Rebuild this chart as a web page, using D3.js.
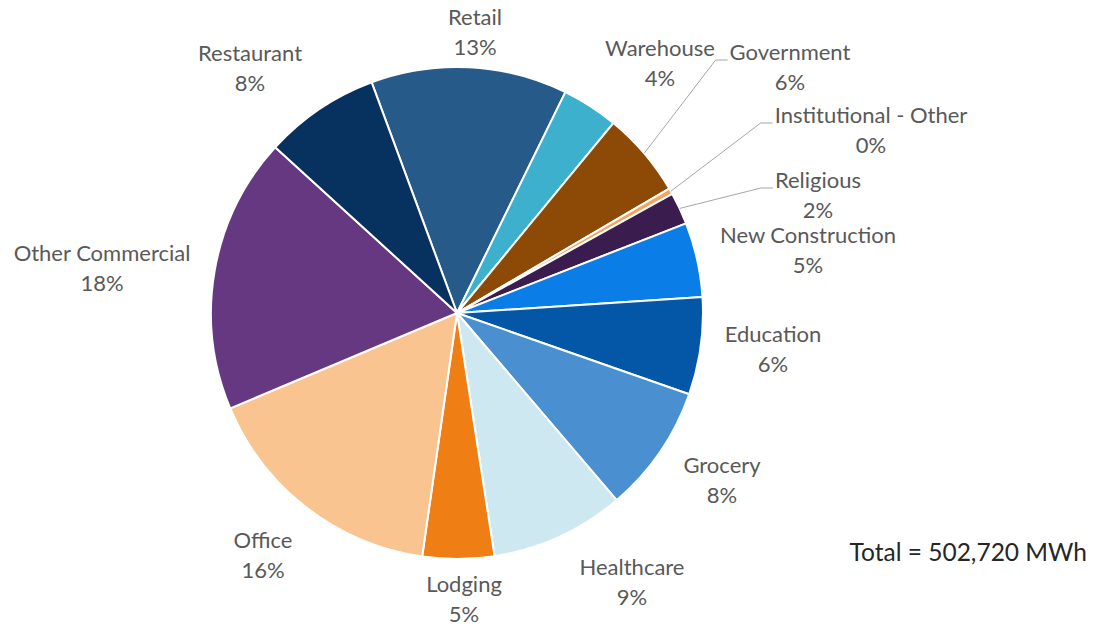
<!DOCTYPE html>
<html>
<head>
<meta charset="utf-8">
<script src="https://cdn.jsdelivr.net/npm/d3@7"></script>
<style>
  html, body { margin: 0; padding: 0; background: #fff; }
  svg text { font-family: Lato, "Open Sans", sans-serif; fill: #595959; }
</style>
</head>
<body>
<svg id="chart" width="1105" height="627"></svg>
<script>
// Commercial sector energy use by building type (share of total, %)
const categories = [
  "Retail", "Warehouse", "Government", "Institutional - Other", "Religious",
  "New Construction", "Education", "Grocery", "Healthcare", "Lodging",
  "Office", "Other Commercial", "Restaurant"
];
const shares = [12.9, 3.7, 5.6, 0.4, 2.1, 4.9, 6.4, 8.4, 8.8, 4.7, 16.4, 18.1, 7.6];
const totalLabel = "Total = 502,720 MWh";

// Slice colours, in category order
const colors = [
  "#255a89", "#3cb0cd", "#8c4a06", "#f3a45e", "#3b1c4f",
  "#0a7ee6", "#0457a6", "#4a8fd0", "#cde8f0", "#ef7f15",
  "#f9c48f", "#673882", "#07325f"
];

// Label block centres, relative to the pie centre; leader = draw a connector line
const labelLayout = {
  "Retail":               { x: 18,   y: -281 },
  "Warehouse":            { x: 203,  y: -250 },
  "Government":           { x: 333,  y: -246, leader: true },
  "Institutional - Other":{ x: 414,  y: -183, leader: true },
  "Religious":            { x: 361,  y: -118, leader: true },
  "New Construction":     { x: 351,  y: -63 },
  "Education":            { x: 316,  y: 36 },
  "Grocery":              { x: 265,  y: 167 },
  "Healthcare":           { x: 175,  y: 269 },
  "Lodging":              { x: 7,    y: 286 },
  "Office":               { x: -194, y: 242 },
  "Other Commercial":     { x: -355, y: -45 },
  "Restaurant":           { x: -207, y: -245 }
};

const svg = d3.select("#chart");
const cx = 457, cy = 313, radius = 246;
const fontSize = 22, lineGap = 30;

const data = categories.map((c, i) => ({ name: c, value: shares[i], color: colors[i] }));
const total = d3.sum(shares);
const pct = d3.format(".0%");

const startAngle = -20.3 * Math.PI / 180;
const pie = d3.pie()
  .value(d => d.value)
  .sort(null)
  .startAngle(startAngle)
  .endAngle(startAngle + 2 * Math.PI);

const arc = d3.arc().innerRadius(0).outerRadius(radius);
const arcs = pie(data);

const g = svg.append("g").attr("transform", `translate(${cx},${cy})`);

g.selectAll("path.slice")
  .data(arcs)
  .join("path")
  .attr("class", "slice")
  .attr("d", arc)
  .attr("fill", d => d.data.color)
  .attr("stroke", "#ffffff")
  .attr("stroke-width", 2)
  .attr("stroke-linejoin", "round");

// Data labels: category name over rounded percentage
const labels = g.selectAll("g.label")
  .data(arcs)
  .join("g")
  .attr("class", "label")
  .attr("transform", d => {
    const p = labelLayout[d.data.name];
    return `translate(${p.x},${p.y})`;
  });

labels.append("text")
  .attr("text-anchor", "middle")
  .attr("font-size", fontSize)
  .attr("y", -lineGap / 2 + fontSize * 0.35)
  .text(d => d.data.name);

labels.append("text")
  .attr("text-anchor", "middle")
  .attr("font-size", fontSize)
  .attr("y", lineGap / 2 + fontSize * 0.35)
  .text(d => pct(d.data.value / total));

// Leader lines for the narrow slices on the upper right
arcs.filter(d => labelLayout[d.data.name].leader).forEach(d => {
  const p = labelLayout[d.data.name];
  const mid = (d.startAngle + d.endAngle) / 2;
  const sx = radius * Math.sin(mid), sy = -radius * Math.cos(mid);
  const node = labels.filter(l => l === d).select("text").node();
  const w = node.getComputedTextLength();
  const left = p.x - w / 2;
  const baseY = p.y - lineGap / 2 + 8;
  g.append("polyline")
    .attr("points", [[sx, sy], [left - 14, baseY], [left - 2, baseY]].map(q => q.join(",")).join(" "))
    .attr("fill", "none")
    .attr("stroke", "#a6a6a6")
    .attr("stroke-width", 1);
});

svg.append("text")
  .attr("x", 1087)
  .attr("y", 561)
  .attr("text-anchor", "end")
  .attr("font-size", 24.5)
  .style("fill", "#262626")
  .text(totalLabel);
</script>
</body>
</html>
